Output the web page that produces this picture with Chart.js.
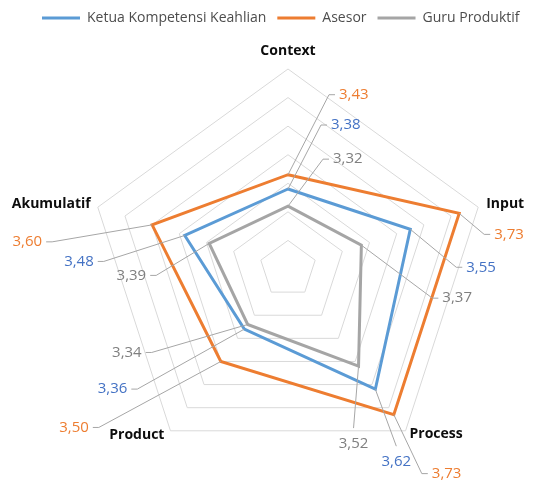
<!DOCTYPE html>
<html>
<head>
<meta charset="utf-8">
<script src="https://cdn.jsdelivr.net/npm/chart.js@4.4.1/dist/chart.umd.min.js"></script>
<style>
  html, body { margin: 0; padding: 0; background: #fff; }
  #wrap { width: 540px; height: 483px; }
</style>
</head>
<body>
<div id="wrap"><canvas id="myChart"></canvas></div>
<script>
const categories = ["Context", "Input", "Process", "Product", "Akumulatif"];
const seriesNames = ["Ketua Kompetensi Keahlian", "Asesor", "Guru Produktif"];
const ketuaValues = [3.38, 3.55, 3.62, 3.36, 3.48];
const asesorValues = [3.43, 3.73, 3.73, 3.50, 3.60];
const guruValues = [3.32, 3.37, 3.52, 3.34, 3.39];

const FONT = "'Open Sans', 'Noto Sans', sans-serif";
const lineColors = ["#5B9BD5", "#ED7D31", "#A5A5A5"];
const labelColors = ["#4472C4", "#ED7D31", "#7F7F7F"];

// posisi label kategori relatif terhadap sudut luar jaring
const catOffsets = [[0, -18, "center"], [8, -3, "left"], [4, 3, "left"], [-6, 4, "right"], [-7, -3, "right"]];

// posisi label data: titik siku (dx, dy) dari titik data, arah teks
const labelOffsets = [
  [[33, -64, "L"], [46, 38, "L"], [21, 57, "B"], [-107, 60, "R"], [-81, 26, "R"]],
  [[41, -80, "L"], [25, 21, "L"], [28, 59, "L"], [-122, 66, "R"], [-100, 17, "R"]],
  [[35, -47, "L"], [71, 53, "L"], [-5, 62, "B"], [-96, 28, "R"], [-53, 32, "R"]],
];

const radarLabels = {
  id: "radarLabels",
  afterDatasetsDraw(chart) {
    const ctx = chart.ctx;
    const scale = chart.scales.r;
    ctx.save();
    ctx.textBaseline = "middle";

    // nama kategori
    ctx.font = "bold 14px " + FONT;
    ctx.fillStyle = "#0D0D0D";
    categories.forEach((name, i) => {
      const p = scale.getPointPosition(i, scale.drawingArea);
      const [dx, dy, align] = catOffsets[i];
      ctx.textAlign = align;
      ctx.fillText(name, p.x + dx, p.y + dy);
    });

    // nilai data + garis penunjuk
    ctx.font = "15px " + FONT;
    chart.data.datasets.forEach((ds, i) => {
      const meta = chart.getDatasetMeta(i);
      meta.data.forEach((pt, j) => {
        const [dx, dy, side] = labelOffsets[i][j];
        const ex = pt.x + dx;
        const ey = pt.y + dy;
        const text = ds.data[j].toFixed(2).replace(".", ",");
        ctx.strokeStyle = "#A6A6A6";
        ctx.lineWidth = 1;
        ctx.beginPath();
        ctx.moveTo(pt.x, pt.y);
        ctx.lineTo(ex, ey);
        if (side === "L") ctx.lineTo(ex + 6, ey);
        if (side === "R") ctx.lineTo(ex - 6, ey);
        ctx.stroke();
        ctx.fillStyle = labelColors[i];
        if (side === "L") {
          ctx.textAlign = "left";
          ctx.fillText(text, ex + 10, ey);
        } else if (side === "R") {
          ctx.textAlign = "right";
          ctx.fillText(text, ex - 10, ey);
        } else {
          ctx.textAlign = "center";
          ctx.fillText(text, ex, ey + 16);
        }
      });
    });
    ctx.restore();
  },
};

const ctx = document.getElementById("myChart");

new Chart(ctx, {
  type: "radar",
  data: {
    labels: categories,
    datasets: [
      { label: seriesNames[0], data: ketuaValues },
      { label: seriesNames[1], data: asesorValues },
      { label: seriesNames[2], data: guruValues },
    ].map((d, i) => ({
      ...d,
      borderColor: lineColors[i],
      backgroundColor: lineColors[i],
      borderWidth: 3,
      fill: false,
      pointRadius: 0,
      pointHoverRadius: 0,
    })),
  },
  options: {
    responsive: true,
    maintainAspectRatio: false,
    animation: false,
    layout: { padding: { left: 31, right: 0, top: 0, bottom: 14 } },
    plugins: {
      legend: {
        position: "top",
        align: "start",
        labels: {
          usePointStyle: true,
          pointStyle: "line",
          pointStyleWidth: 38,
          padding: 11,
          color: "#4D4D4D",
          font: { family: FONT, size: 14 },
        },
      },
      // jarak antara legenda dan jaring
      title: {
        display: true,
        text: "",
        weight: 500,
        font: { size: 10 },
        padding: { top: 22, bottom: 0 },
      },
      // jarak kiri supaya pusat jaring sesuai
      subtitle: {
        display: true,
        text: "",
        position: "left",
        fullSize: false,
        font: { size: 5 },
        padding: { left: 1, right: 0, top: 0, bottom: 0 },
      },
      tooltip: { enabled: false },
    },
    scales: {
      r: {
        min: 3.1,
        max: 3.8,
        ticks: { stepSize: 0.1, display: false },
        grid: { color: "#D9D9D9", lineWidth: 1 },
        angleLines: { display: false },
        pointLabels: { display: false },
      },
    },
  },
  plugins: [radarLabels],
});
</script>
</body>
</html>
